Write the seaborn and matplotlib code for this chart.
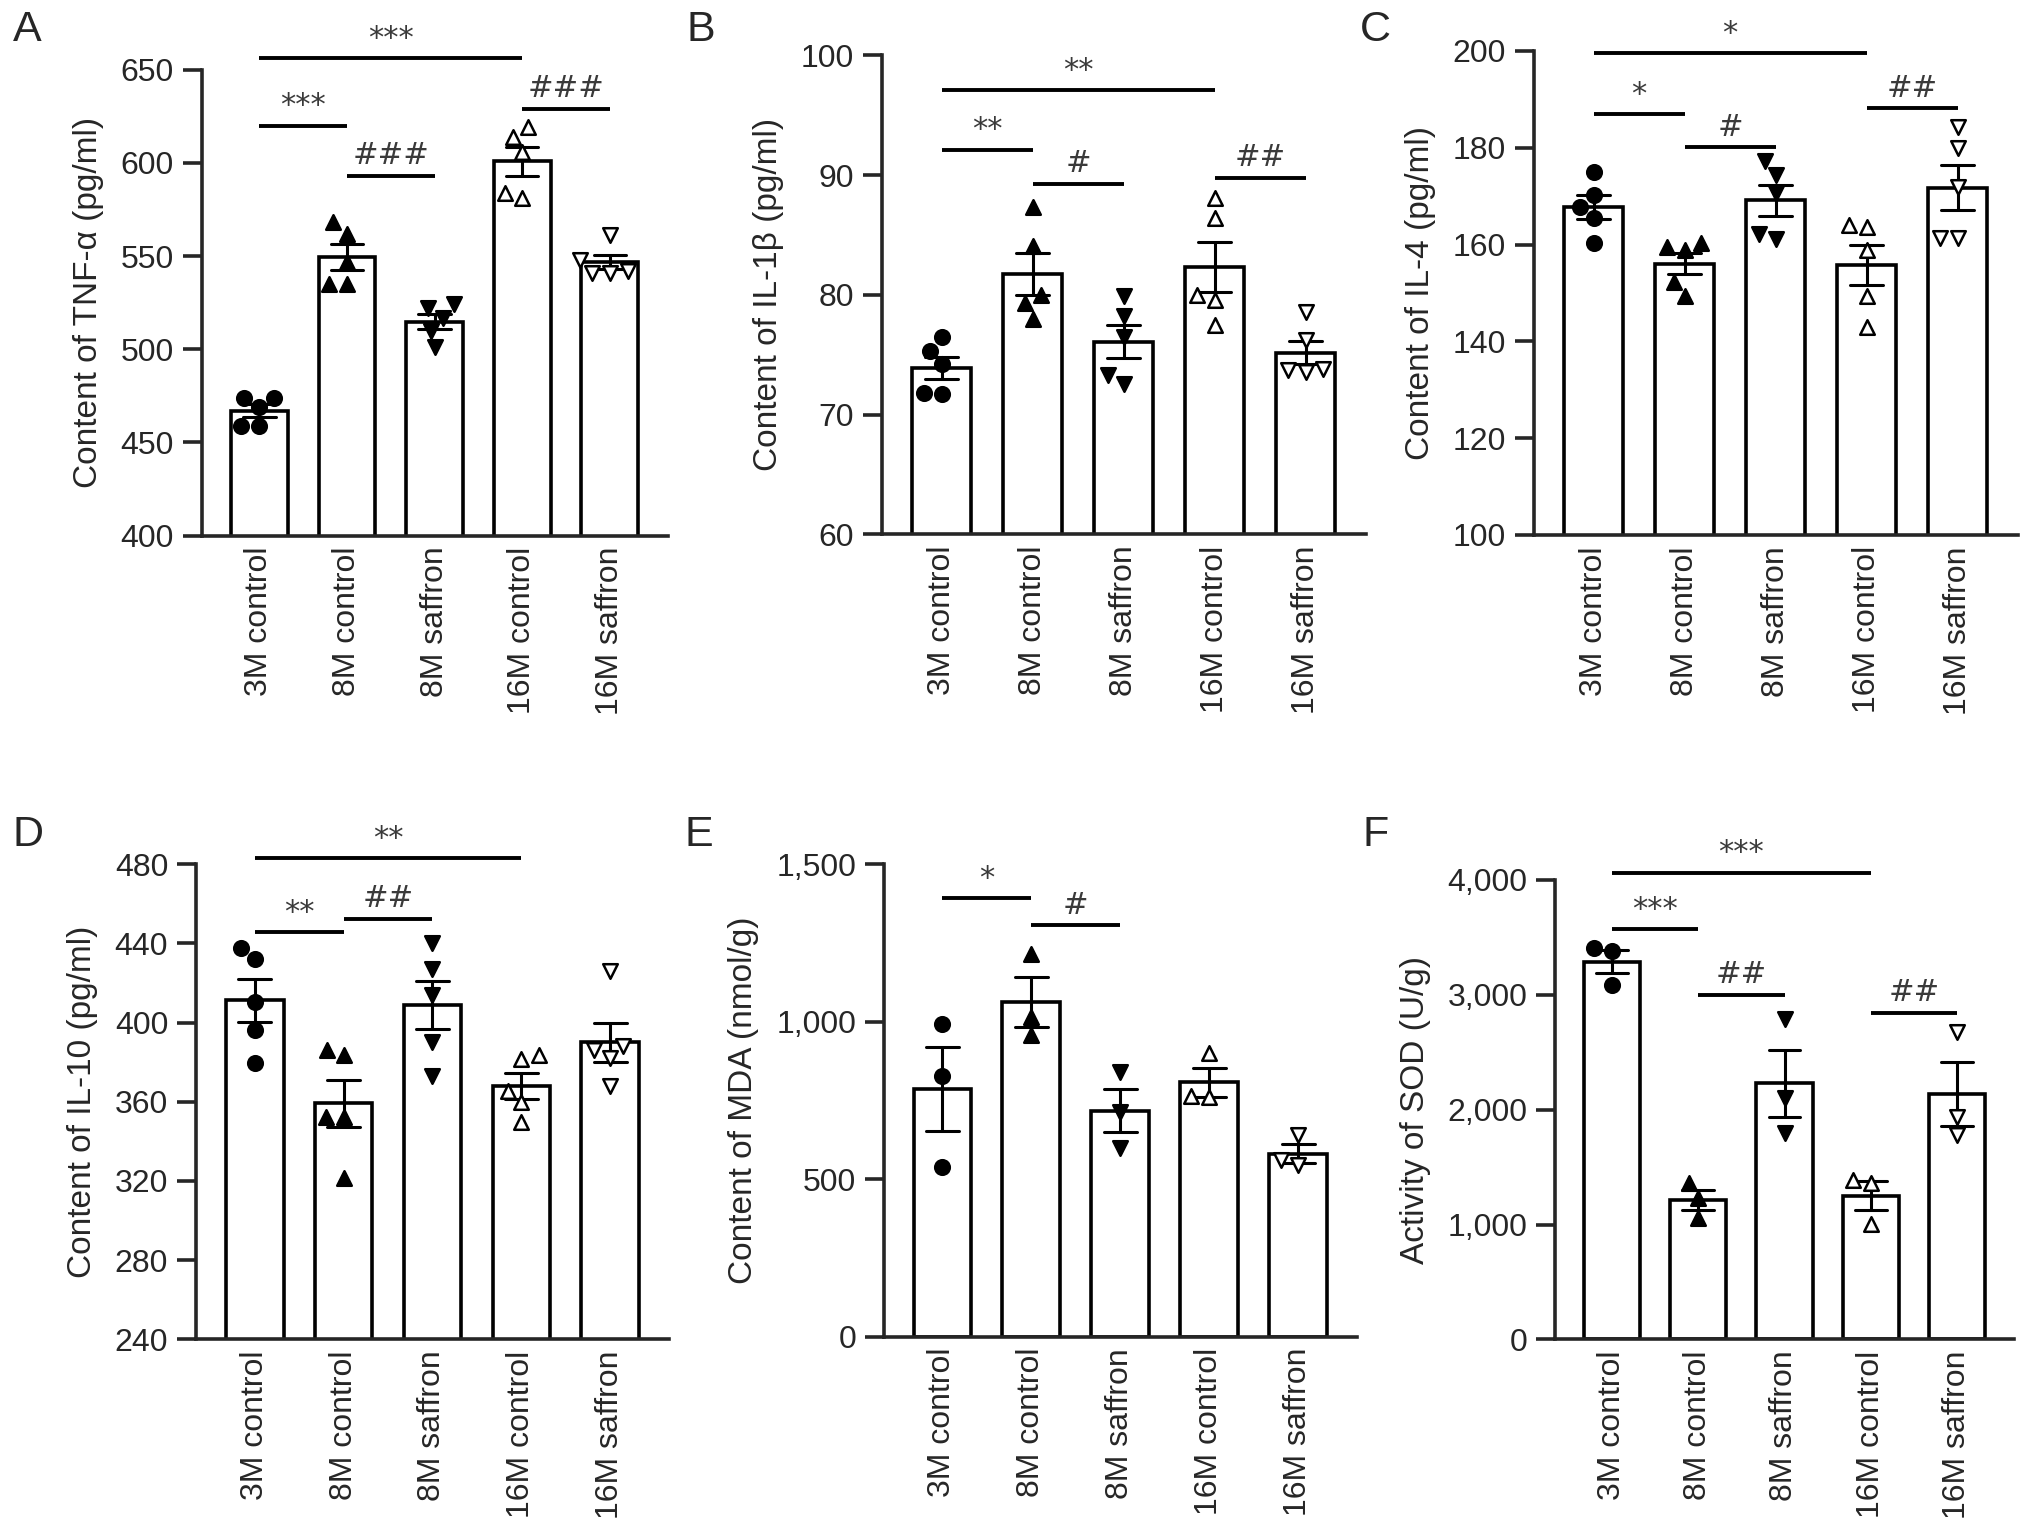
import numpy as np
import pandas as pd
import matplotlib
matplotlib.use('Agg')
import matplotlib.pyplot as plt
from matplotlib.ticker import FuncFormatter, MultipleLocator
import seaborn as sns

groups = ['3M control', '8M control', '8M saffron', '16M control', '16M saffron']
markers = ['o', '^', 'v', '^', 'v']
fills = ['black', 'black', 'black', 'white', 'white']

# individual animals per group
tnf = [[474, 474, 469, 459, 459],
       [568, 562, 547, 535, 535],
       [522, 524, 517, 510, 501],
       [614, 619, 606, 581, 584],
       [561, 548, 542, 541, 541]]
il1b = [[75.3, 76.5, 74.2, 71.7, 71.8],
        [87.3, 84.1, 79.3, 78.0, 80.0],
        [79.9, 78.2, 76.5, 72.6, 73.3],
        [88.1, 86.4, 80.0, 79.6, 77.5],
        [78.6, 76.2, 73.7, 73.8, 73.6]]
il4 = [[175.1, 170.3, 167.7, 165.5, 160.3],
       [160.3, 158.9, 159.6, 152.2, 149.3],
       [177.3, 174.4, 170.7, 161.1, 162.2],
       [164.0, 163.7, 158.9, 149.3, 143.0],
       [184.3, 179.9, 171.8, 161.4, 161.4]]
il10 = [[437.6, 432.0, 410.5, 396.4, 379.6],
        [383.4, 386.1, 352.5, 352.5, 321.7],
        [440, 427, 414, 390, 373],
        [381.5, 383.4, 365.6, 360.0, 349.7],
        [426, 388, 382, 386, 368]]
mda = [[992, 828, 540],
       [1216, 1016, 957],
       [840, 715, 600],
       [900, 760, 765],
       [640, 545, 560]]
sod = [[3404, 3382, 3082],
       [1359, 1230, 1053],
       [2790, 2100, 1800],
       [1391, 1359, 1005],
       [2680, 1940, 1780]]

# significance brackets: (from group, to group, label, height)
sig_a = [(0, 3, '***', 656), (0, 1, '***', 620), (1, 2, '###', 593), (3, 4, '###', 629)]
sig_b = [(0, 3, '**', 97.1), (0, 1, '**', 92.1), (1, 2, '#', 89.3), (3, 4, '##', 89.8)]
sig_c = [(0, 3, '*', 199.5), (0, 1, '*', 186.9), (1, 2, '#', 180.1), (3, 4, '##', 188.2)]
sig_d = [(0, 3, '**', 483), (0, 1, '**', 445.6), (1, 2, '##', 452.5)]
sig_e = [(0, 1, '*', 1392), (1, 2, '#', 1306)]
sig_f = [(0, 3, '***', 4064), (0, 1, '***', 3572), (1, 2, '##', 3002), (3, 4, '##', 2842)]

sns.set_style('ticks')
plt.rcParams['font.family'] = ['Liberation Sans', 'DejaVu Sans']

W, H = 2032, 1538
fig = plt.figure(figsize=(W / 100, H / 100), dpi=100)

panels = [
    ('A', tnf, 'Content of TNF-α (pg/ml)', (400, 650), 50, sig_a,
     (201.6, 69.6, 466, 466), (13, 10)),
    ('B', il1b, 'Content of IL-1β (pg/ml)', (60, 100), 10, sig_b,
     (881.6, 55.4, 484, 479), (686, 10)),
    ('C', il4, 'Content of IL-4 (pg/ml)', (100, 200), 20, sig_c,
     (1533.6, 51, 484, 484), (1360, 10)),
    ('D', il10, 'Content of IL-10 (pg/ml)', (240, 480), 40, sig_d,
     (196, 864.3, 473, 475), (13, 815)),
    ('E', mda, 'Content of MDA (nmol/g)', (0, 1500), 500, sig_e,
     (883.8, 864.3, 473, 472.5), (684, 815)),
    ('F', sod, 'Activity of SOD (U/g)', (0, 4000), 1000, sig_f,
     (1555, 879.9, 459, 459.5), (1362, 815)),
]

lw = 2.6
for letter, vals, ylabel, ylim, step, sigs, box, lpos in panels:
    x0, y0, w, h = box
    ax = fig.add_axes([x0 / W, 1 - (y0 + h) / H, w / W, h / H])
    df = pd.DataFrame({'group': np.repeat(groups, [len(v) for v in vals]),
                       'value': np.concatenate(vals)})
    sns.barplot(data=df, x='group', y='value', order=groups, errorbar='se',
                capsize=0.37, width=0.65, color='white', saturation=1,
                edgecolor='black', linewidth=lw,
                err_kws={'color': 'black', 'linewidth': 2.2}, ax=ax)
    for g, m, fc in zip(groups, markers, fills):
        sub = df[df['group'] == g]
        sns.swarmplot(data=sub, x='group', y='value', order=groups, marker=m,
                      color=fc, edgecolor='black', linewidth=1.8, size=10.5,
                      ax=ax, zorder=4)
    ax.set_xlim(-0.66, 4.66)
    ax.set_ylim(*ylim)
    ax.yaxis.set_major_locator(MultipleLocator(step))
    ax.yaxis.set_major_formatter(FuncFormatter(lambda v, p: f'{int(round(v)):,}'))
    ax.set_xticks(range(len(groups)))
    ax.set_xticklabels(groups, rotation=90, ha='center', va='top')
    ax.tick_params(axis='y', length=14, width=lw, labelsize=23, pad=6)
    ax.tick_params(axis='x', length=0, labelsize=23, pad=8)
    ax.set_xlabel('')
    ax.set_ylabel(ylabel, fontsize=24, labelpad=12)
    sns.despine(ax=ax)
    for s in ['left', 'bottom']:
        ax.spines[s].set_linewidth(lw)
    for i, j, lab, yy in sigs:
        ax.plot([i, j], [yy, yy], color='black', lw=2.8, clip_on=False,
                solid_capstyle='butt')
        ax.annotate(lab, xy=((i + j) / 2, yy), xytext=(0, 4),
                    textcoords='offset points', ha='center', va='bottom',
                    fontsize=22, color='#3a3a3a', family=['DejaVu Sans'],
                    annotation_clip=False)
    fig.text(lpos[0] / W, 1 - lpos[1] / H, letter, fontsize=31,
             ha='left', va='top')

fig.savefig('out.png', dpi=100)
